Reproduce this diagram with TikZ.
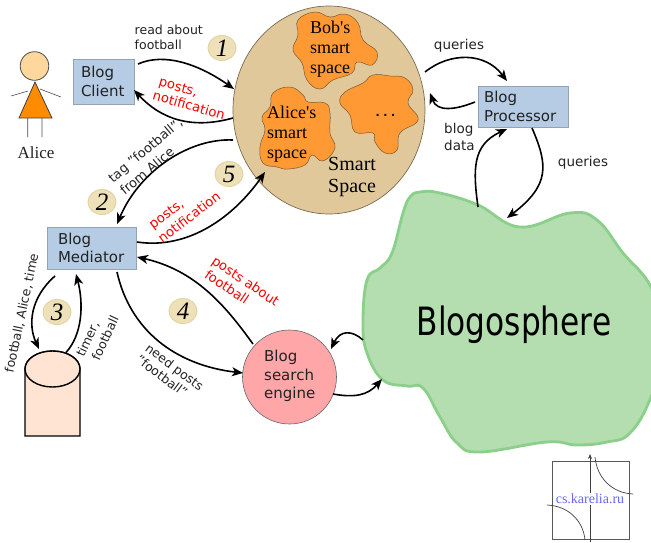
\documentclass[tikz,border=0pt]{standalone}
\usepackage{fontspec}
\setmainfont{DejaVu Sans}
\newfontfamily\srf{Liberation Serif}
\usetikzlibrary{arrows.meta,shapes.geometric}
\definecolor{boxfill}{HTML}{B5CCE4}
\definecolor{boxline}{HTML}{94A3B3}
\definecolor{spacefill}{HTML}{E0C89B}
\definecolor{spaceline}{HTML}{7B6A50}
\definecolor{blobfill}{HTML}{FF9933}
\definecolor{blobline}{HTML}{7A5A30}
\definecolor{sphfill}{HTML}{B4DEB0}
\definecolor{sphline}{HTML}{8AD08A}
\definecolor{numfill}{HTML}{EEE0B8}
\definecolor{numline}{HTML}{E3D4A4}
\definecolor{enginefill}{HTML}{FFA6A9}
\definecolor{cylfill}{HTML}{FFE4D3}
\definecolor{headfill}{HTML}{FDD79B}
\definecolor{bodyfill}{HTML}{FF8C00}
\definecolor{logoblue}{HTML}{6666FF}
\definecolor{txt}{HTML}{222222}
\tikzset{
  box/.style={draw=boxline,fill=boxfill,line width=0.9pt,inner ysep=0pt,align=left,
    font=\fontsize{15}{18.5}\selectfont,text=txt,minimum height=#1},
  arr/.style={line width=1.6pt,black,-{Stealth[length=11pt,width=9pt,inset=3pt]}},
  lab/.style={font=\fontsize{12.5}{15}\selectfont,text=txt,align=left,inner sep=0pt},
  biglab/.style={font=\fontsize{13.5}{17}\selectfont,text=txt,align=left,inner sep=0pt},
  redlab/.style={font=\fontsize{13.2}{15}\selectfont,text=red,align=center,inner sep=0pt},
  num/.style={ellipse,draw=numline,fill=numfill,line width=1pt,minimum width=28pt,minimum height=25pt,inner sep=0pt,
    font=\srf\itshape\fontsize{25}{25}\selectfont},
  blob/.style={draw=blobline,fill=blobfill,line width=0.5pt},
  spt/.style={font=\srf\fontsize{18}{20}\selectfont,align=left,inner sep=0pt,text=black},
}
\begin{document}
\begin{tikzpicture}[x=1pt,y=-1pt]
\useasboundingbox (0,0) rectangle (651,542);

% Alice
\node[circle,draw=black!70,fill=headfill,line width=0.8pt,minimum size=28.6pt,inner sep=0pt] (head) at (34.5,66) {};
\draw[draw=black!70,line width=0.6pt] (11,96) -- (28,91) (40,89) -- (61,97) (27.7,118) -- (27.7,137) (42,118) -- (42,137);
\draw[draw=black!75,fill=bodyfill,line width=0.8pt] (35,82) -- (52,118) -- (19,118) -- cycle;
\node[font=\srf\fontsize{17}{20}\selectfont,text=txt,inner sep=0pt] (alice) at (36,153) {Alice};

% Smart space
\node[ellipse,draw=spaceline,fill=spacefill,line width=0.7pt,minimum width=192pt,minimum height=208pt,inner sep=0pt] (space) at (329,110) {};
\draw[blob] plot[smooth cycle,tension=0.75] coordinates {(315,12) (330,17) (345,14) (358,23) (363,40) (377,52) (372,65) (357,62) (352,73) (333,80) (320,89) (307,80) (302,63) (293,50) (298,35) (298,20)};
\draw[blob] plot[smooth cycle,tension=0.75] coordinates {(373,75) (390,76) (405,78) (413,90) (408,103) (418,120) (400,133) (397,150) (385,153) (375,142) (373,133) (355,132) (350,115) (340,103) (345,92) (363,83)};
\draw[blob] plot[smooth cycle,tension=0.75] coordinates {(290,87) (303,95) (308,102) (325,103) (330,113) (330,133) (335,148) (323,161) (312,155) (305,165) (288,169) (277,167) (263,163) (260,147) (265,130) (262,117) (270,107) (273,93)};
\node[spt,anchor=north west] (bobt) at (310,21) {Bob's\\smart\\space};
\node[spt,anchor=north west] (alicet) at (267,106) {Alice's\\smart\\space};
\node[spt,font=\srf\fontsize{20}{22}\selectfont,anchor=north west] (smartt) at (328,157) {Smart\\Space};
\node[font=\bfseries\fontsize{11}{11}\selectfont,inner sep=0pt,anchor=base] (dots) at (385.5,116) {.\kern3.5pt.\kern3.5pt.};

% Blogosphere
\draw[draw=sphline,fill=sphfill,line width=2.8pt] plot[smooth cycle,tension=0.7] coordinates {(420,192) (440,193) (478,205) (520,227) (570,213) (597,220) (623,253) (651,287) (668,340) (651,397) (630,433) (607,442) (577,445) (547,442) (480,452) (457,443) (440,417) (423,388) (407,386) (383,380) (367,353) (363,323) (367,280) (380,268) (392,253) (403,213) (410,197)};
\node[inner sep=0pt,font=\fontsize{39}{39}\selectfont,text=black] (blogo) at (514,325) {\scalebox{0.8}[1]{Blogosphere}};

% Boxes
\node[box=45pt,text width=45pt,inner xsep=8pt] (client) at (103.5,81.5) {Blog\\Client};
\node[box=42pt,text width=67pt,inner xsep=11pt] (mediator) at (91.5,248) {Blog\\Mediator};
\node[box=41pt,text width=78pt,inner xsep=6pt] (proc) at (523,106.5) {Blog\\Processor};
\node[circle,draw=black!60,fill=enginefill,line width=0.6pt,minimum size=94pt,inner sep=0pt] (engine) at (289.5,377) {};
\node[font=\fontsize{15}{18.5}\selectfont,text=txt,align=left,inner sep=0pt,anchor=west] (enginet) at (264,376) {Blog\\search\\engine};

% Database
\node[inner sep=0pt,minimum width=55pt,minimum height=85pt] (cyl) at (52.5,393.5) {};
\draw[black,fill=cylfill,line width=1.4pt] (25,369) -- (25,436) -- (80,436) -- (80,369) arc[start angle=0,end angle=-180,x radius=27.5,y radius=18];
\draw[black,fill=cylfill,line width=1.4pt] (52.5,369) ellipse[x radius=27.5,y radius=18];

% Numbers
\node[num] (n1) at (222,48) {1};
\node[num] (n2) at (102,202) {2};
\node[num] (n3) at (57,312) {3};
\node[num] (n4) at (183,311) {4};
\node[num] (n5) at (229,174) {5};

% Connectors
\draw[arr] ([shift={(34.5,-17.5)}]client.center) .. controls (165,52) and (200,65) .. ([shift={(-95,-21)}]space.center);
\draw[arr] ([shift={(-96,8)}]space.center) .. controls (190,130) and (160,118) .. ([shift={(30.5,8.5)}]client.center);
\draw[arr] ([shift={(-96,30)}]space.center) .. controls (190,138) and (140,170) .. ([shift={(25.5,-24)}]mediator.center);
\draw[arr] ([shift={(45.5,-6)}]mediator.center) .. controls (190,250) and (235,215) .. ([shift={(-64,62)}]space.center);
\draw[arr] ([shift={(-36.5,28)}]mediator.center) .. controls (30,298) and (28,325) .. ([shift={(-13.5,-44.5)}]cyl.center);
\draw[arr] ([shift={(13.5,-41)}]cyl.center) .. controls (82,335) and (84,305) .. ([shift={(-15.5,26)}]mediator.center);
\draw[arr] ([shift={(25.5,24)}]mediator.center) .. controls (130,330) and (175,365) .. ([shift={(-46.5,-4)}]engine.center);
\draw[arr] ([shift={(-36.5,-33)}]engine.center) .. controls (225,305) and (195,270) .. ([shift={(45.5,9)}]mediator.center);
\draw[arr] ([shift={(43.5,17)}]engine.center) .. controls (355,398) and (368,395) .. ([shift={(-132,54)}]blogo.center);
\draw[arr] ([shift={(-151,15)}]blogo.center) .. controls (352,330) and (340,330) .. ([shift={(41.5,-28)}]engine.center);
\draw[arr] ([shift={(96,-38)}]space.center) .. controls (450,52) and (485,52) .. ([shift={(-16,-25.5)}]proc.center);
\draw[arr] ([shift={(-48,-4.5)}]proc.center) .. controls (455,110) and (437,112) .. ([shift={(101,-17)}]space.center);
\draw[arr] ([shift={(-36,-118)}]blogo.center) .. controls (473,170) and (472,145) .. ([shift={(-16,22.5)}]proc.center);
\draw[arr] ([shift={(9,21.5)}]proc.center) .. controls (548,165) and (550,185) .. ([shift={(-7,-107)}]blogo.center);

% Labels
\node[lab,anchor=west] (l1) at (134.5,37.5) {read about\\football};
\node[redlab,rotate=-16] (l2a) at (178,88) {posts,};
\node[redlab,rotate=-16] (l2b) at (189,105) {notification};
\node[lab,font=\fontsize{13}{15}\selectfont,rotate=40] (l3a) at (146,151) {tag "football",};
\node[lab,font=\fontsize{13}{15}\selectfont,rotate=40] (l3b) at (147,171) {from Alice};
\node[redlab,rotate=37] (l4a) at (167,215) {posts,};
\node[redlab,rotate=37] (l4b) at (189,217) {notification};
\node[lab,rotate=78] (l5) at (22,313) {football, Alice, time};
\node[lab,rotate=65] (l6a) at (88,339) {timer,};
\node[lab,rotate=65] (l6b) at (105,338) {football};
\node[lab,rotate=-37] (l7a) at (174,368) {need posts};
\node[lab,rotate=-37] (l7b) at (162,376) {"football"};
\node[redlab,rotate=-34] (l8a) at (245,282) {posts about};
\node[redlab,rotate=-34] (l8b) at (227,287) {football};
\node[biglab] (l9) at (459,46) {queries};
\node[biglab] (l10) at (583,163) {queries};
\node[biglab,anchor=west] (l11) at (444,136.5) {blog\\data};

% Logo
\draw[draw=black!65,line width=0.9pt] (552,461) rectangle (629,539);
\draw[draw=black!75,line width=0.7pt,-{Stealth[length=5pt,width=4pt]}] (590,542) -- (590,454);
\draw[draw=black!75,line width=0.7pt] (595,457) .. controls (597,478) and (612,493) .. (633,494);
\draw[draw=black!75,line width=0.7pt] (547,505) .. controls (568,506) and (583,520) .. (585,540);
\node[font=\srf\fontsize{14}{14}\selectfont,text=logoblue,fill=white,inner xsep=0pt,inner ysep=1.5pt] (logo) at (590,499) {cs.karelia.ru};
\end{tikzpicture}
\end{document}
